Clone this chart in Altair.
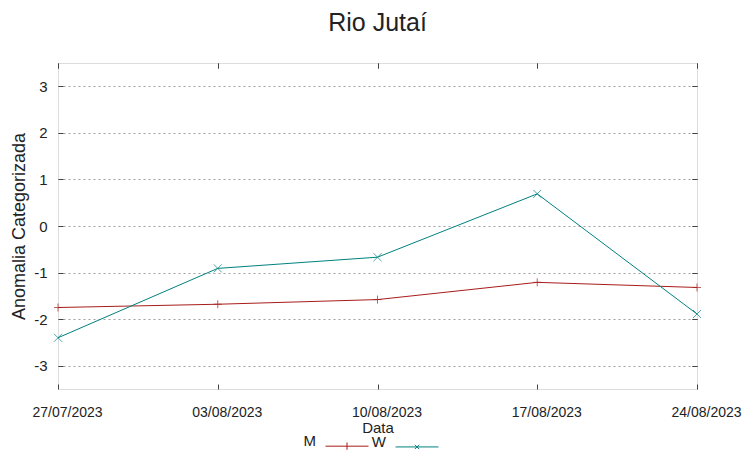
import altair as alt
import pandas as pd

# ---- data ----
dates = ["27/07/2023", "03/08/2023", "10/08/2023", "17/08/2023", "24/08/2023"]
series_names = ["M", "W"]
m_values = [-1.75, -1.68, -1.58, -1.21, -1.32]
w_values = [-2.40, -0.91, -0.67, 0.69, -1.89]
y_ticks = [-3, -2, -1, 0, 1, 2, 3]

rows = []
for d, v in zip(dates, m_values):
    rows.append({"date": d, "series": "M", "value": v})
for d, v in zip(dates, w_values):
    rows.append({"date": d, "series": "W", "value": v})
df = pd.DataFrame(rows)

FONT = "Liberation Sans"
RED = "#a81c1c"
TEAL = "#008080"

color_scale = alt.Scale(domain=series_names, range=[RED, TEAL])
x_scale = alt.Scale(type="point", padding=0, domain=dates)
y_scale = alt.Scale(domain=[-3.5, 3.5], nice=False, zero=False)

PLUS = "M-1,0L1,0M0,-1L0,1"
CROSS = "M-1,-1L1,1M-1,1L1,-1"
LEG_PLUS = "M-1,0L1,0M0,-0.17L0,0.17"
LEG_CROSS = "M-1,0L1,0M-0.1,-0.1L0.1,0.1M-0.1,0.1L0.1,-0.1"

legend = alt.Legend(orient="none", legendX=267, legendY=361, direction="horizontal",
                    title=None, labelFont=FONT, labelFontSize=15, labelColor="#222",
                    labelAlign="right", labelOffset={"expr": "-53"},
                    labelBaseline="alphabetic",
                    columnPadding=0, symbolSize=1849, symbolStrokeWidth=1,
                    symbolOpacity=1, padding=0)

base = alt.Chart(df)

x_main = alt.X(
    "date:O", scale=x_scale,
    axis=alt.Axis(orient="bottom", offset=-5, tickSize=5, tickColor="#444",
                  domain=False, grid=False, labelAngle=0, labelOffset=9,
                  labelPadding=16, labelFontSize=14, labelFont=FONT,
                  labelColor="#222", labelFlush=False, labelOverlap=False,
                  labelBound=False,
                  title="Data", titleFont=FONT, titleFontSize=15,
                  titleFontWeight="normal", titleColor="#222", titlePadding=1),
)
y_main = alt.Y(
    "value:Q", scale=y_scale,
    axis=alt.Axis(orient="left", values=y_ticks, offset=-5, tickSize=5,
                  tickColor="#444", domain=False, grid=True,
                  gridDash=[2, 3], gridColor="#a0a0a0", gridWidth=1,
                  labelPadding=11, labelFontSize=15, labelFont=FONT,
                  labelColor="#222", labelExpr="'' + datum.value",
                  title="Anomalia Categorizada", titleFont=FONT,
                  titleFontSize=18, titleFontWeight="normal",
                  titleColor="#222", titlePadding=5),
)

color_enc = alt.Color("series:N", scale=color_scale, legend=legend)

lines = base.mark_line(strokeWidth=1).encode(x=x_main, y=y_main, color=color_enc)

x_top = alt.X("date:O", scale=x_scale,
              axis=alt.Axis(orient="top", offset=-5, tickSize=5, tickColor="#444",
                            domain=False, grid=False, labels=False, title=None))
y_right = alt.Y("value:Q", scale=y_scale,
                axis=alt.Axis(orient="right", values=y_ticks, offset=-5, tickSize=5,
                              tickColor="#444", domain=False, grid=False,
                              labels=False, title=None))

pts_m = base.transform_filter(alt.datum.series == "M").mark_point(
    shape=PLUS, filled=False, size=64, strokeWidth=1
).encode(x=x_top, y=y_right, color=color_enc)
pts_w = base.transform_filter(alt.datum.series == "W").mark_point(
    shape=CROSS, filled=False, size=64, strokeWidth=1
).encode(x=x_top, y=y_right, color=color_enc)

carrier = base.transform_filter("false").mark_point(filled=False, strokeWidth=1).encode(
    x=alt.X("date:O", scale=x_scale, axis=None),
    y=alt.Y("value:Q", scale=y_scale, axis=None),
    color=color_enc,
    shape=alt.Shape("series:N", scale=alt.Scale(domain=series_names,
                                                range=[LEG_PLUS, LEG_CROSS]),
                    legend=legend),
)

chart = alt.layer(lines, pts_m, pts_w, carrier).resolve_scale(
    x="shared", y="shared"
).resolve_axis(x="independent", y="independent").properties(
    width=639, height=326,
    title=alt.TitleParams("Rio Jutaí", font=FONT, fontSize=25, fontWeight="normal",
                          color="#222", anchor="middle", frame="group", offset=27),
    autosize=alt.AutoSizeParams(type="none"),
    padding={"left": 50, "top": 55, "right": 48, "bottom": 62},
).configure_view(stroke="#444", strokeWidth=1).configure(background="white")

chart.save("out.html", embed_options={"renderer": "svg", "actions": False})
